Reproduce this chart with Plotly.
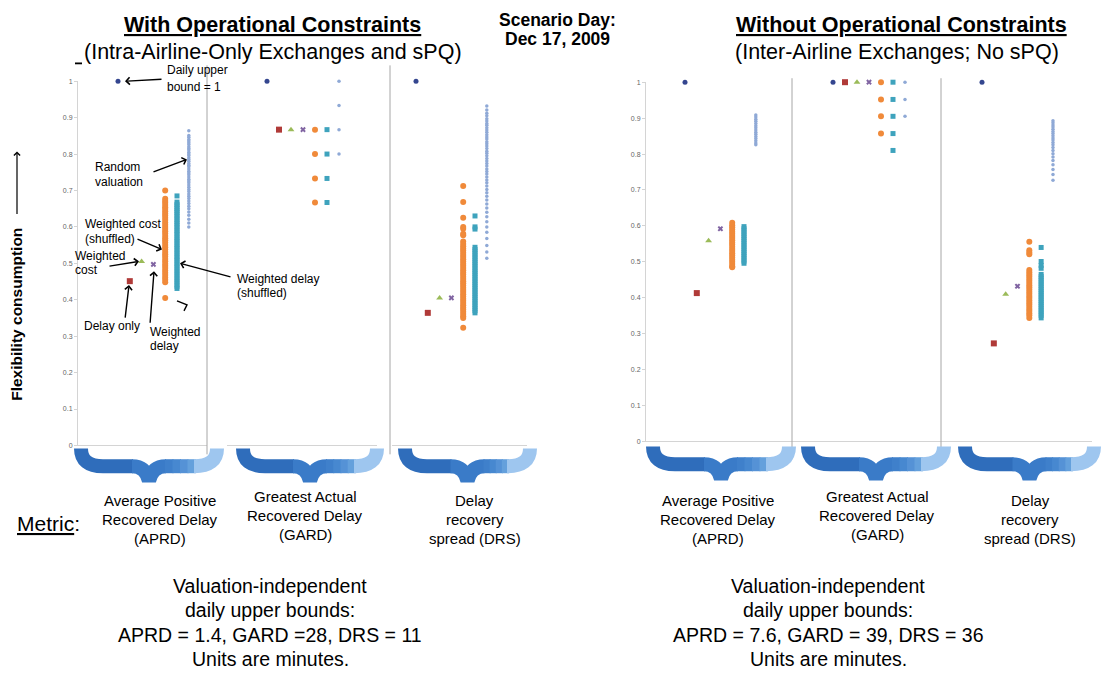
import plotly.graph_objects as go

W, H = 1102, 683
FONT = "Arial, Liberation Sans, sans-serif"

SERIES = ["Daily upper bound", "Delay only", "Weighted cost", "Weighted delay",
          "Weighted cost (shuffled)", "Weighted delay (shuffled)", "Random valuation"]
COLORS = ["#34468f", "#b03a38", "#9bbb59", "#8064a2", "#f08a3a", "#3ea3bd", "#8fa9d6"]
SYMBOLS = ["circle", "square", "triangle-up", "x", "circle", "square", "circle"]
SIZES = [5, 6, 6, 5, 6, 5, 3.5]

# flexibility consumption per series, with operational constraints
APRD_WITH = [
    [1.0], [0.451], [0.505], [0.497],
    [0.700, 0.677, 0.671, 0.666, 0.660, 0.654, 0.649, 0.643, 0.637, 0.631, 0.625, 0.619,
     0.612, 0.606, 0.600, 0.594, 0.588, 0.582, 0.575, 0.569, 0.563, 0.557, 0.550, 0.544,
     0.538, 0.531, 0.525, 0.519, 0.512, 0.506, 0.499, 0.493, 0.487, 0.480, 0.474, 0.468,
     0.461, 0.455, 0.448, 0.405],
    [0.685, 0.668, 0.662, 0.657, 0.651, 0.645, 0.640, 0.633, 0.628, 0.621, 0.615, 0.609,
     0.603, 0.597, 0.590, 0.584, 0.578, 0.571, 0.565, 0.559, 0.552, 0.546, 0.540, 0.533,
     0.527, 0.520, 0.514, 0.508, 0.501, 0.495, 0.489, 0.482, 0.476, 0.469, 0.463, 0.456,
     0.450, 0.443, 0.437, 0.431],
    [0.864, 0.851, 0.846, 0.840, 0.836, 0.831, 0.826, 0.820, 0.815, 0.811, 0.805, 0.800,
     0.796, 0.790, 0.785, 0.780, 0.774, 0.769, 0.765, 0.759, 0.753, 0.748, 0.743, 0.737,
     0.731, 0.726, 0.721, 0.715, 0.709, 0.703, 0.697, 0.690, 0.684, 0.678, 0.671, 0.664,
     0.657, 0.650, 0.641, 0.632, 0.621, 0.611, 0.600],
]
GARD_WITH = [
    [1.0], [0.867], [0.867], [0.867],
    [0.867, 0.800, 0.733, 0.667],
    [0.867, 0.800, 0.733, 0.667],
    [1.0, 0.933, 0.867, 0.800],
]
DRS_WITH = [
    [1.0], [0.364], [0.405], [0.405],
    [0.712, 0.668, 0.625, 0.600, 0.595, 0.581, 0.577, 0.560, 0.553, 0.547, 0.541, 0.535,
     0.529, 0.523, 0.517, 0.511, 0.505, 0.499, 0.493, 0.487, 0.481, 0.475, 0.469, 0.463,
     0.457, 0.451, 0.445, 0.439, 0.433, 0.427, 0.421, 0.415, 0.409, 0.403, 0.397, 0.391,
     0.385, 0.379, 0.373, 0.367, 0.361, 0.355, 0.350, 0.323],
    [0.630, 0.600, 0.594, 0.544, 0.538, 0.532, 0.526, 0.520, 0.514, 0.508, 0.502, 0.496,
     0.490, 0.484, 0.478, 0.472, 0.466, 0.460, 0.454, 0.448, 0.442, 0.436, 0.430, 0.424,
     0.418, 0.412, 0.406, 0.400, 0.394, 0.388, 0.382, 0.376, 0.370, 0.364],
    [0.932, 0.921, 0.912, 0.905, 0.897, 0.891, 0.884, 0.879, 0.872, 0.866, 0.860, 0.853,
     0.847, 0.841, 0.834, 0.828, 0.822, 0.815, 0.808, 0.802, 0.795, 0.788, 0.781, 0.774,
     0.767, 0.759, 0.752, 0.745, 0.737, 0.729, 0.721, 0.712, 0.703, 0.694, 0.684, 0.674,
     0.663, 0.652, 0.640, 0.628, 0.614, 0.600, 0.585, 0.568, 0.549, 0.531, 0.514],
]

# without operational constraints
APRD_WITHOUT = [
    [1.0], [0.413], [0.559], [0.592],
    [0.609, 0.602, 0.596, 0.590, 0.584, 0.578, 0.572, 0.566, 0.560, 0.554, 0.548, 0.542,
     0.536, 0.530, 0.524, 0.518, 0.512, 0.506, 0.500, 0.494, 0.488, 0.485],
    [0.598, 0.592, 0.586, 0.580, 0.574, 0.568, 0.562, 0.556, 0.550, 0.544, 0.538, 0.532,
     0.526, 0.520, 0.514, 0.508, 0.502, 0.496],
    [0.909, 0.903, 0.897, 0.891, 0.885, 0.879, 0.873, 0.867, 0.861, 0.855, 0.849, 0.843,
     0.837, 0.831, 0.826],
]
GARD_WITHOUT = [
    [1.0], [1.0], [1.0], [1.0],
    [1.0, 0.952, 0.905, 0.857],
    [1.0, 0.952, 0.905, 0.857, 0.810],
    [1.0, 0.952, 0.905],
]
DRS_WITHOUT = [
    [1.0], [0.273], [0.410], [0.432],
    [0.556, 0.532, 0.526, 0.521, 0.477, 0.471, 0.465, 0.459, 0.453, 0.447, 0.441, 0.435,
     0.429, 0.423, 0.417, 0.411, 0.405, 0.399, 0.393, 0.387, 0.381, 0.375, 0.369, 0.363,
     0.357, 0.351, 0.344],
    [0.540, 0.501, 0.490, 0.482, 0.465, 0.459, 0.453, 0.447, 0.441, 0.435, 0.429, 0.423,
     0.417, 0.411, 0.405, 0.399, 0.393, 0.387, 0.381, 0.375, 0.369, 0.363, 0.357, 0.351,
     0.344],
    [0.893, 0.887, 0.881, 0.875, 0.869, 0.863, 0.857, 0.851, 0.845, 0.839, 0.832, 0.826,
     0.818, 0.810, 0.801, 0.792, 0.782, 0.770, 0.757, 0.743, 0.727],
]

Y_TICKS = [0, 0.1, 0.2, 0.3, 0.4, 0.5, 0.6, 0.7, 0.8, 0.9, 1]
Y_TICK_TEXT = ["0", "0.1", "0.2", "0.3", "0.4", "0.5", "0.6", "0.7", "0.8", "0.9", "1"]

METRIC_NAMES = [["Average Positive", "Recovered Delay", "(APRD)"],
                ["Greatest Actual", "Recovered Delay", "(GARD)"],
                ["Delay", "recovery", "spread (DRS)"]]
BOUNDS_WITH = ["Valuation-independent", "daily upper bounds:",
               "APRD = 1.4, GARD =28, DRS = 11", "Units are minutes."]
BOUNDS_WITHOUT = ["Valuation-independent", "daily upper bounds:",
                  "APRD = 7.6, GARD = 39, DRS = 36", "Units are minutes."]


def X(p):
    return p / W


def Y(p):
    return 1 - p / H


# (data, left px, right px, top px, bottom px, px of first series, px step, y labels)
panels = [
    (APRD_WITH, 78, 207, 78, 446, 118, 11.8, True),
    (GARD_WITH, 227, 377, 78, 446, 267, 12.0, False),
    (DRS_WITH, 392, 527, 78, 446, 416, 11.8, False),
    (APRD_WITHOUT, 646, 792, 79, 442, 685, 11.8, True),
    (GARD_WITHOUT, 791, 941, 79, 442, 833, 12.0, False),
    (DRS_WITHOUT, 941, 1092, 79, 442, 982, 11.83, False),
]

fig = go.Figure()
layout = {}
for i, (data, x0, x1, yt, yb, first, step, ylab) in enumerate(panels):
    n = "" if i == 0 else str(i + 1)
    origin = first - step
    layout["xaxis" + n] = dict(
        domain=[X(x0), X(x1)], range=[(x0 - origin) / step, (x1 - origin) / step],
        anchor="y" + n, showgrid=False, zeroline=False, showticklabels=False,
        showline=True, linecolor="#d4d4d4", linewidth=1, fixedrange=True)
    layout["yaxis" + n] = dict(
        domain=[Y(yb), Y(yt)], range=[0, 1], anchor="x" + n, showgrid=False,
        zeroline=False, showline=ylab, linecolor="#d4d4d4", linewidth=1,
        showticklabels=ylab, tickvals=Y_TICKS, ticktext=Y_TICK_TEXT,
        ticks="outside" if ylab else "", ticklen=3, tickcolor="#d4d4d4",
        tickfont=dict(size=7, color="#666666", family=FONT), fixedrange=True)
    for k, vals in enumerate(data):
        fig.add_trace(go.Scatter(
            x=[k + 1] * len(vals), y=vals, mode="markers", name=SERIES[k],
            xaxis="x" + n, yaxis="y" + n, cliponaxis=False,
            marker=dict(symbol=SYMBOLS[k], size=SIZES[k], color=COLORS[k],
                        line=dict(width=0))))

annotations = []


def text(x, y, s, size, xanchor="center", align="center", angle=0):
    annotations.append(dict(x=X(x), y=Y(y), xref="paper", yref="paper", text=s,
                            showarrow=False, xanchor=xanchor, yanchor="middle",
                            align=align, textangle=angle,
                            font=dict(size=size, color="black", family=FONT)))


def lines(x, y, gap, rows, size, fmt="%s", xanchor="center"):
    for j, r in enumerate(rows):
        text(x, y + j * gap, fmt % r, size, xanchor=xanchor)


def arrow(x0, y0, x1, y1, width=1.4):
    annotations.append(dict(x=X(x1), y=Y(y1), xref="paper", yref="paper",
                            ax=x0 - x1, ay=y0 - y1, axref="pixel", ayref="pixel",
                            text="", showarrow=True, arrowhead=4, arrowsize=1,
                            arrowwidth=width, arrowcolor="black"))


# headings
text(272, 21, "<u><b>With Operational Constraints</b></u>", 21.5)
text(273, 49, "(Intra-Airline-Only Exchanges and sPQ)", 21.5)
lines(557, 16, 19, ["Scenario Day:", "Dec 17, 2009"], 17.5, "<b>%s</b>")
text(901, 21, "<u><b>Without Operational Constraints</b></u>", 21.5)
text(897, 49, "(Inter-Airline Exchanges; No sPQ)", 21.5)

# y label and arrow
text(17, 314, "<b>Flexibility consumption</b>", 15.5, angle=-90)
arrow(17, 213, 17, 149, 1.2)

# series callouts
lines(165, 67, 17, ["Daily upper", "bound = 1"], 12, xanchor="left")
arrow(163, 76, 125, 78)
lines(93, 165, 15, ["Random", "valuation"], 12, xanchor="left")
arrow(152, 170, 187, 157)
lines(83, 222, 15, ["Weighted cost", "(shuffled)"], 12, xanchor="left")
arrow(136, 237, 162, 248)
lines(73, 255, 14, ["Weighted", "cost"], 12, xanchor="left")
arrow(108, 265, 139, 260)
text(82, 325, "Delay only", 12, xanchor="left")
arrow(125, 318, 129, 284)
lines(148, 331, 15, ["Weighted", "delay"], 12, xanchor="left")
arrow(150, 323, 154, 270)
lines(235, 278, 14, ["Weighted delay", "(shuffled)"], 12, xanchor="left")
arrow(232, 276, 180, 262)

# metric labels
text(48, 525, "<u>Metric</u>:", 21)
for cx, cy, rows in zip([160, 305, 475, 718, 877, 1030], [502, 498, 502, 502, 498, 502],
                        METRIC_NAMES * 2):
    lines(cx, cy, 19, rows, 15)

lines(270, 588, 24.6, BOUNDS_WITH, 19.5)
lines(828, 588, 24.6, BOUNDS_WITHOUT, 19.5)

shapes = []


def line(x0, y0, x1, y1, color="#a6a6a6", width=1):
    shapes.append(dict(type="line", xref="paper", yref="paper", x0=X(x0), y0=Y(y0),
                       x1=X(x1), y1=Y(y1), line=dict(color=color, width=width)))


for xs, y0, y1 in [(207, 62, 455), (390, 62, 455), (792, 75, 460), (941, 75, 460)]:
    line(xs, y0, xs, y1)
line(75, 60, 82, 60, "black", 1.8)
shapes.append(dict(type="path", xref="paper", yref="paper",
                   path="M%f,%f L%f,%f L%f,%f" % (X(177), Y(300), X(187), Y(304), X(184), Y(310)),
                   line=dict(color="black", width=1.4)))


def seg(cmds, color, width=14):
    path = " ".join(c + " ".join("%f,%f" % (X(a), Y(b)) for a, b in p) for c, p in cmds)
    shapes.append(dict(type="path", xref="paper", yref="paper", path=path,
                       line=dict(color=color, width=width)))


def brace(x0, x1, yt):
    cx = (x0 + x1) / 2
    ym = yt + 18
    seg([("M", [(x0 + 8, yt)]), ("Q", [(x0 + 8, ym), (x0 + 30, ym)]),
         ("L", [(cx - 16, ym)])], "#2f6dbb")
    seg([("M", [(cx - 17, ym)]), ("Q", [(cx - 3, ym), (cx, yt + 33)]),
         ("Q", [(cx + 3, ym), (cx + 17, ym)])], "#3a7bc8")
    w = (x1 - 30) - (cx + 16)
    shades = ["#3f80cb", "#4788d0", "#5592d6", "#64a0dc"]
    for j, col in enumerate(shades):
        a = cx + 16 + w * j / len(shades)
        b = cx + 16 + w * (j + 1) / len(shades) + 1
        seg([("M", [(a, ym)]), ("L", [(b, ym)])], col)
    seg([("M", [(x1 - 31, ym)]), ("Q", [(x1 - 8, ym), (x1 - 8, yt)])], "#9ec6ef")


for bx0, bx1, byt in [(73, 225, 449), (235, 385, 449), (397, 538, 449),
                      (645, 797, 447), (800, 952, 447), (957, 1102, 447)]:
    brace(bx0, bx1, byt)

fig.update_layout(
    width=W, height=H, margin=dict(l=0, r=0, t=0, b=0),
    paper_bgcolor="white", plot_bgcolor="white", showlegend=False,
    annotations=annotations, shapes=shapes, font=dict(family=FONT),
    **layout)

fig.write_html("out.html", config={"displayModeBar": False},
               post_script="document.body.style.margin='0px';"
                           "document.body.style.overflow='hidden';")
